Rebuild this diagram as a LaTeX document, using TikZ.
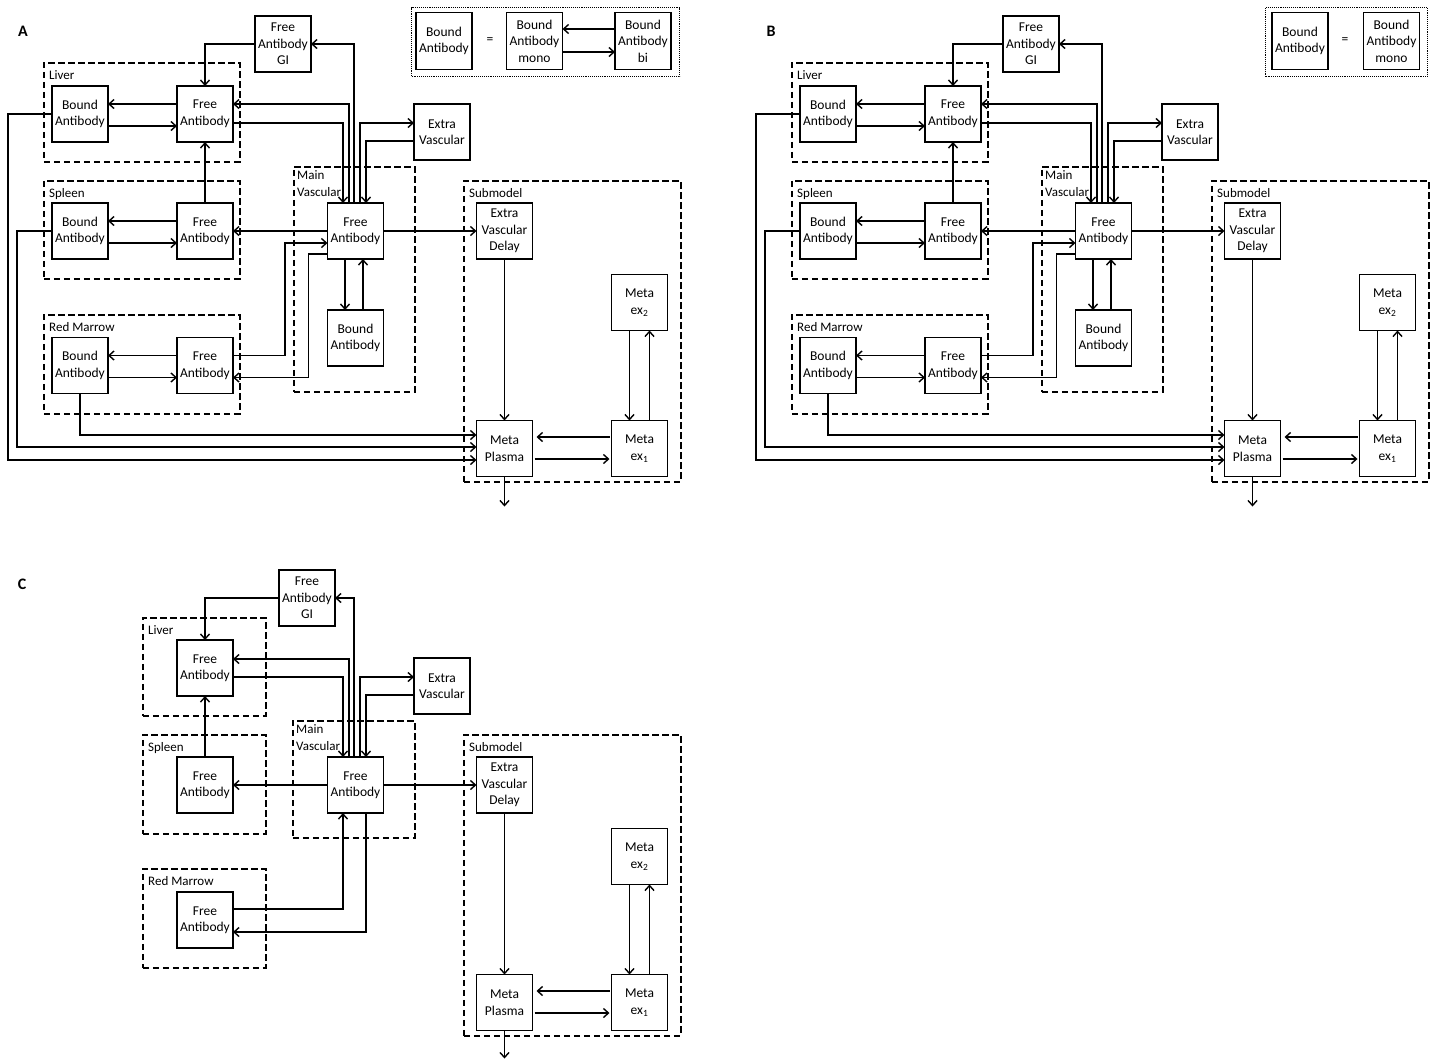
\documentclass[tikz,border=0pt]{standalone}
\usepackage{fontspec}
\setmainfont{Carlito}
\usetikzlibrary{positioning,arrows.meta}

\begin{document}
\begin{tikzpicture}[
    x=1pt, y=-1pt,
    font=\fontsize{13.5}{16.5}\selectfont,
    box/.style={draw, line width=1.8pt, minimum width=56pt, minimum height=56pt, inner sep=1pt,
                outer sep=0pt, align=center},
    grp/.style={draw, line width=1.5pt, dash pattern=on 6.5pt off 3.5pt, anchor=north west, inner sep=0pt},
    grplab/.style={anchor=north west, inner sep=0pt, xshift=6pt, yshift=-8.5pt, align=left,
                   font=\fontsize{13}{17}\selectfont},
    legbox/.style={draw, line width=1.3pt, dash pattern=on 1pt off 0.9pt, anchor=north west, inner sep=0pt},
    flow/.style={-{Straight Barb[length=5pt,width=9pt]}, line width=1.4pt},
    panel/.style={font=\fontsize{16}{16}\selectfont\bfseries},
]
  \useasboundingbox (0,0) rectangle (1440,1061);
  %% panels A and B share the same compartments
  \foreach \p/\lab/\dx in {a/A/0,b/B/748} {
  \begin{scope}[xshift=\dx pt]
    \node[panel] (\p-tag) at (23,31) {\lab};
    %% compartments
    \node[grp, minimum width=196pt, minimum height=99pt] (\p-liv) at (43,62) {};
    \node[grp, minimum width=196pt, minimum height=98pt] (\p-spl) at (43,180) {};
    \node[grp, minimum width=196pt, minimum height=99pt] (\p-rm) at (43,314) {};
    \node[grp, minimum width=121pt, minimum height=225pt] (\p-main) at (293,166) {};
    \node[grp, minimum width=217pt, minimum height=301pt] (\p-sub) at (463,180) {};
    \node[grplab] (\p-livlab) at (\p-liv.north west) {Liver};
    \node[grplab] (\p-spllab) at (\p-spl.north west) {Spleen};
    \node[grplab] (\p-rmlab) at (\p-rm.north west) {Red Marrow};
    \node[grplab, xshift=-2pt, yshift=4pt] (\p-mainlab) at (\p-main.north west) {Main\\Vascular};
    \node[grplab] (\p-sublab) at (\p-sub.north west) {Submodel};
    %% states
    \node[box] (\p-gi) at (283,44) {Free\\Antibody\\GI};
    \node[box] (\p-lf) at (205,114) {Free\\Antibody};
    \node[box, left=69pt of \p-lf] (\p-lb) {Bound\\Antibody};
    \node[box] (\p-sf) at (205,231) {Free\\Antibody};
    \node[box, left=69pt of \p-sf] (\p-sb) {Bound\\Antibody};
    \node[box] (\p-rf) at (205,365.5) {Free\\Antibody};
    \node[box, left=69pt of \p-rf] (\p-rb) {Bound\\Antibody};
    \node[box] (\p-mf) at (355.5,231) {Free\\Antibody};
    \node[box, below=51pt of \p-mf] (\p-mb) {Bound\\Antibody};
    \node[box] (\p-ev) at (442,132) {Extra\\Vascular};
    \node[box] (\p-evd) at (504.5,231) {Extra\\Vascular\\Delay};
    \node[box] (\p-mp) at (504.5,448.5) {Meta\\Plasma};
    \node[box, right=79pt of \p-mp] (\p-ex1) {Meta\\ex\textsubscript{1}};
    \node[box, above=90pt of \p-ex1] (\p-ex2) {Meta\\ex\textsubscript{2}};
    %% binding inside the organs
    \draw[flow] ([yshift=10pt]\p-lf.west) -- ([yshift=10pt]\p-lb.east);
    \draw[flow] ([yshift=-12pt]\p-lb.east) -- ([yshift=-12pt]\p-lf.west);
    \draw[flow] ([yshift=10pt]\p-sf.west) -- ([yshift=10pt]\p-sb.east);
    \draw[flow] ([yshift=-12pt]\p-sb.east) -- ([yshift=-12pt]\p-sf.west);
    \draw[flow] ([yshift=10pt]\p-rf.west) -- ([yshift=10pt]\p-rb.east);
    \draw[flow] ([yshift=-12pt]\p-rb.east) -- ([yshift=-12pt]\p-rf.west);
    \draw[flow] (\p-sf) -- (\p-lf);
    %% main vascular exchange
    \draw[flow] (\p-gi.west) -| (\p-lf.north);
    \draw[flow] ([xshift=-1.5pt]\p-mf.north) |- (\p-gi.east);
    \draw[flow] ([xshift=-6.5pt]\p-mf.north) |- ([yshift=10pt]\p-lf.east);
    \draw[flow] ([yshift=-9pt]\p-lf.east) -| ([xshift=-12.5pt]\p-mf.north);
    \draw[flow] ([xshift=4.5pt]\p-mf.north) |- ([yshift=9pt]\p-ev.west);
    \draw[flow] ([yshift=-9pt]\p-ev.west) -| ([xshift=10.5pt]\p-mf.north);
    \draw[flow] (\p-mf) -- (\p-sf);
    \draw[flow] ([yshift=10pt]\p-rf.east) -- ++(52,0) |- ([yshift=-12pt]\p-mf.west);
    \draw[flow] ([yshift=-23pt]\p-mf.west) -- ++(-19,0) |- ([yshift=-12pt]\p-rf.east);
    \draw[flow] ([xshift=-10.5pt]\p-mf.south) -- ([xshift=-10.5pt]\p-mb.north);
    \draw[flow] ([xshift=7.5pt]\p-mb.north) -- ([xshift=7.5pt]\p-mf.south);
    \draw[flow] (\p-mf) -- (\p-evd);
    %% submodel
    \draw[flow] (\p-rb.south) |- ([yshift=13.5pt]\p-mp.west);
    \draw[flow] (\p-sb.west) -- ++(-35,0) |- ([yshift=1.5pt]\p-mp.west);
    \draw[flow] (\p-lb.west) -- ++(-44,0) |- ([yshift=-11.5pt]\p-mp.west);
    \draw[flow] (\p-evd) -- (\p-mp);
    \draw[flow, shorten <=2pt, shorten >=4pt] ([yshift=11.5pt]\p-ex1.west) -- ([yshift=11.5pt]\p-mp.east);
    \draw[flow, shorten <=2pt, shorten >=2pt] ([yshift=-10.5pt]\p-mp.east) -- ([yshift=-10.5pt]\p-ex1.west);
    \draw[flow] ([xshift=-10pt]\p-ex2.south) -- ([xshift=-10pt]\p-ex1.north);
    \draw[flow] ([xshift=10pt]\p-ex1.north) -- ([xshift=10pt]\p-ex2.south);
    \draw[flow] (\p-mp.south) -- ++(0,30);
  \end{scope}
  }
  %% legends
  \node[legbox, minimum width=268pt, minimum height=69pt] (a-leg) at (411,7) {};
  \node[box, minimum height=57pt] (a-lgb) at (444,41) {Bound\\Antibody};
  \node (a-eq) at (490,41) {=};
  \node[box, minimum height=57pt] (a-lgm) at (534.5,41) {Bound\\Antibody\\mono};
  \node[box, minimum height=57pt] (a-lgbi) at (643,41) {Bound\\Antibody\\bi};
  \draw[flow] ([yshift=12pt]a-lgbi.west) -- ([yshift=12pt]a-lgm.east);
  \draw[flow] ([yshift=-11pt]a-lgm.east) -- ([yshift=-11pt]a-lgbi.west);
  \node[legbox, minimum width=162pt, minimum height=69pt] (b-leg) at (1265,7) {};
  \node[box, minimum height=57pt] (b-lgb) at (1300,41) {Bound\\Antibody};
  \node (b-eq) at (1345,41) {=};
  \node[box, minimum height=57pt] (b-lgm) at (1391.5,41) {Bound\\Antibody\\mono};
  %% panel C, free antibody only
  \node[panel] (c-tag) at (22,584) {C};
  \node[grp, minimum width=123pt, minimum height=98pt] (c-liv) at (142,617) {};
  \node[grp, minimum width=123pt, minimum height=99pt] (c-spl) at (142,734) {};
  \node[grp, minimum width=123pt, minimum height=99pt] (c-rm) at (142,868) {};
  \node[grp, minimum width=122pt, minimum height=117pt] (c-main) at (292,720) {};
  \node[grp, minimum width=217pt, minimum height=301pt] (c-sub) at (463,734) {};
  \node[grplab] (c-livlab) at (c-liv.north west) {Liver};
  \node[grplab] (c-spllab) at (c-spl.north west) {Spleen};
  \node[grplab] (c-rmlab) at (c-rm.north west) {Red Marrow};
  \node[grplab, xshift=-2pt, yshift=4pt] (c-mainlab) at (c-main.north west) {Main\\Vascular};
  \node[grplab] (c-sublab) at (c-sub.north west) {Submodel};
  \node[box] (c-gi) at (307,598) {Free\\Antibody\\GI};
  \node[box] (c-lf) at (205,668) {Free\\Antibody};
  \node[box] (c-sf) at (205,785) {Free\\Antibody};
  \node[box] (c-rf) at (205,920) {Free\\Antibody};
  \node[box] (c-mf) at (355.5,785) {Free\\Antibody};
  \node[box] (c-ev) at (442,686) {Extra\\Vascular};
  \node[box] (c-evd) at (504.5,785) {Extra\\Vascular\\Delay};
  \node[box] (c-mp) at (504.5,1002.5) {Meta\\Plasma};
  \node[box, right=79pt of c-mp] (c-ex1) {Meta\\ex\textsubscript{1}};
  \node[box, above=90pt of c-ex1] (c-ex2) {Meta\\ex\textsubscript{2}};
  \draw[flow] (c-gi.west) -| (c-lf.north);
  \draw[flow] ([xshift=-1.5pt]c-mf.north) |- (c-gi.east);
  \draw[flow] ([xshift=-6.5pt]c-mf.north) |- ([yshift=9pt]c-lf.east);
  \draw[flow] ([yshift=-9pt]c-lf.east) -| ([xshift=-12.5pt]c-mf.north);
  \draw[flow] ([xshift=4.5pt]c-mf.north) |- ([yshift=9pt]c-ev.west);
  \draw[flow] ([yshift=-9pt]c-ev.west) -| ([xshift=10.5pt]c-mf.north);
  \draw[flow] (c-sf) -- (c-lf);
  \draw[flow] (c-mf) -- (c-sf);
  \draw[flow] (c-mf) -- (c-evd);
  \draw[flow] ([yshift=11pt]c-rf.east) -| ([xshift=-12.5pt]c-mf.south);
  \draw[flow] ([xshift=10.5pt]c-mf.south) |- ([yshift=-12pt]c-rf.east);
  \draw[flow] (c-evd) -- (c-mp);
  \draw[flow, shorten <=2pt, shorten >=4pt] ([yshift=11.5pt]c-ex1.west) -- ([yshift=11.5pt]c-mp.east);
  \draw[flow, shorten <=2pt, shorten >=2pt] ([yshift=-10.5pt]c-mp.east) -- ([yshift=-10.5pt]c-ex1.west);
  \draw[flow] ([xshift=-10pt]c-ex2.south) -- ([xshift=-10pt]c-ex1.north);
  \draw[flow] ([xshift=10pt]c-ex1.north) -- ([xshift=10pt]c-ex2.south);
  \draw[flow] (c-mp.south) -- ++(0,28);
\end{tikzpicture}
\end{document}
